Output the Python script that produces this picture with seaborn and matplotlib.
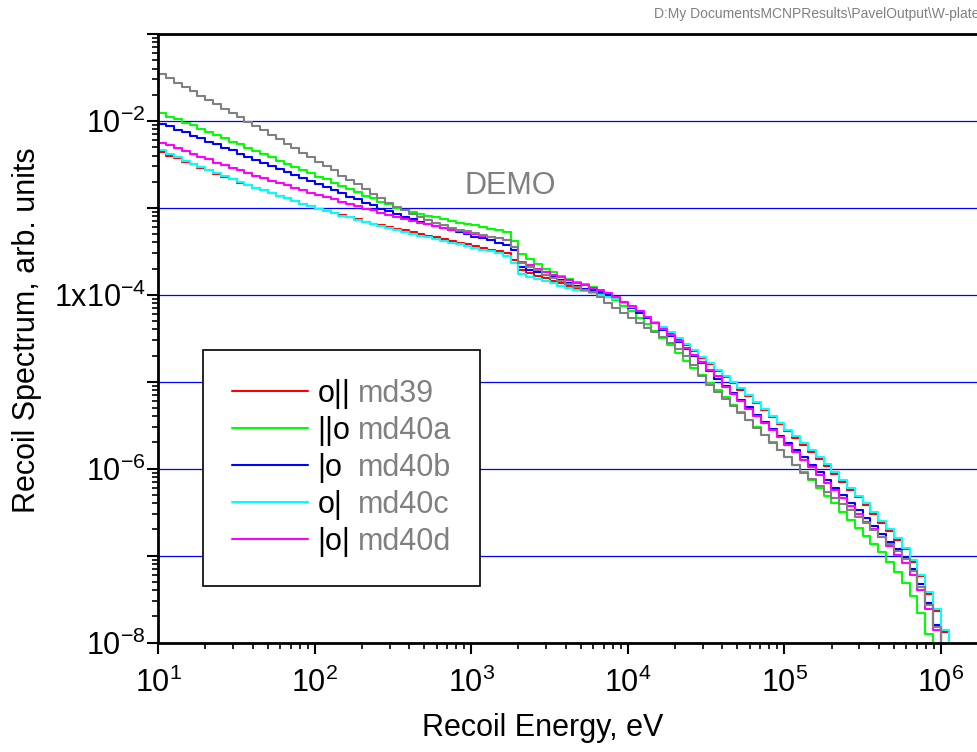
import numpy as np
import pandas as pd
import matplotlib
matplotlib.use("Agg")
import matplotlib.pyplot as plt
from matplotlib.lines import Line2D
from matplotlib import ticker
import seaborn as sns

# Recoil spectra, log10 of the bin value, 20 log bins per decade starting at 10 eV
energy_edges = np.logspace(1, 6.05, 102)

md39_log = [
    -2.36, -2.40, -2.43, -2.47, -2.50, -2.54, -2.57, -2.61, -2.64, -2.67,
    -2.71, -2.74, -2.77, -2.80, -2.83, -2.86, -2.89, -2.92, -2.95, -2.98,
    -3.01, -3.04, -3.06, -3.08, -3.11, -3.13, -3.16, -3.18, -3.20, -3.22,
    -3.24, -3.26, -3.28, -3.30, -3.32, -3.34, -3.36, -3.38, -3.40, -3.42,
    -3.44, -3.46, -3.48, -3.50, -3.52, -3.60, -3.72,
    -3.75, -3.78, -3.81, -3.84, -3.87, -3.90, -3.92, -3.95, -3.97, -3.99,
    -4.02, -4.05, -4.09, -4.14, -4.20, -4.26, -4.32, -4.38, -4.44, -4.51,
    -4.58, -4.65, -4.73, -4.80, -4.88, -4.95, -5.02, -5.09, -5.17, -5.25,
    -5.33, -5.41, -5.49, -5.57, -5.65, -5.73, -5.81, -5.89, -5.97, -6.06,
    -6.15, -6.24, -6.33, -6.42, -6.52, -6.62, -6.72, -6.82, -6.93, -7.07,
    -7.24, -7.44, -7.64, -7.88,
]

md40a_log = [
    -1.91, -1.95, -1.98, -2.02, -2.05, -2.09, -2.13, -2.16, -2.20, -2.24,
    -2.27, -2.31, -2.35, -2.38, -2.42, -2.46, -2.49, -2.53, -2.56, -2.60,
    -2.64, -2.67, -2.71, -2.75, -2.78, -2.82, -2.86, -2.89, -2.93, -2.96,
    -3.00, -3.02, -3.05, -3.07, -3.09, -3.11, -3.13, -3.15, -3.17, -3.19,
    -3.20, -3.22, -3.24, -3.26, -3.28, -3.38, -3.53,
    -3.59, -3.65, -3.70, -3.74, -3.78, -3.82, -3.85, -3.88, -3.91, -3.96,
    -4.00, -4.06, -4.13, -4.19, -4.27, -4.34, -4.42, -4.50, -4.58, -4.67,
    -4.76, -4.84, -4.92, -5.01, -5.09, -5.18, -5.27, -5.35, -5.44, -5.52,
    -5.61, -5.69, -5.78, -5.87, -5.96, -6.04, -6.13, -6.22, -6.31, -6.40,
    -6.50, -6.59, -6.68, -6.77, -6.87, -6.96, -7.07, -7.19, -7.32, -7.47,
    -7.66, -7.90,
]

md40b_log = [
    -2.03, -2.06, -2.10, -2.13, -2.17, -2.20, -2.24, -2.27, -2.31, -2.34,
    -2.38, -2.41, -2.45, -2.48, -2.52, -2.55, -2.59, -2.62, -2.66, -2.69,
    -2.73, -2.76, -2.80, -2.83, -2.87, -2.90, -2.94, -2.97, -3.01, -3.04,
    -3.07, -3.10, -3.13, -3.16, -3.18, -3.21, -3.23, -3.26, -3.28, -3.30,
    -3.33, -3.35, -3.37, -3.40, -3.43, -3.49, -3.68,
    -3.71, -3.74, -3.77, -3.80, -3.83, -3.87, -3.90, -3.93, -3.95, -3.97,
    -4.00, -4.04, -4.09, -4.15, -4.21, -4.27, -4.33, -4.40, -4.47, -4.54,
    -4.62, -4.70, -4.79, -4.88, -4.97, -5.05, -5.13, -5.21, -5.29, -5.38,
    -5.46, -5.54, -5.62, -5.71, -5.79, -5.87, -5.96, -6.04, -6.13, -6.22,
    -6.30, -6.39, -6.48, -6.57, -6.66, -6.75, -6.84, -6.93, -7.02, -7.15,
    -7.33, -7.55, -7.80,
]

md40c_log = [
    -2.34, -2.38, -2.42, -2.46, -2.49, -2.53, -2.56, -2.60, -2.63, -2.67,
    -2.70, -2.74, -2.77, -2.80, -2.83, -2.86, -2.89, -2.92, -2.95, -2.98,
    -3.01, -3.04, -3.06, -3.09, -3.11, -3.14, -3.16, -3.19, -3.21, -3.23,
    -3.25, -3.28, -3.30, -3.32, -3.34, -3.36, -3.38, -3.40, -3.42, -3.44,
    -3.46, -3.48, -3.50, -3.52, -3.55, -3.63, -3.76,
    -3.79, -3.82, -3.84, -3.87, -3.90, -3.92, -3.94, -3.96, -3.98, -4.00,
    -4.02, -4.05, -4.09, -4.14, -4.19, -4.25, -4.31, -4.37, -4.43, -4.50,
    -4.57, -4.64, -4.72, -4.79, -4.86, -4.93, -5.00, -5.07, -5.15, -5.23,
    -5.31, -5.39, -5.47, -5.55, -5.63, -5.71, -5.79, -5.87, -5.95, -6.04,
    -6.13, -6.22, -6.31, -6.40, -6.50, -6.60, -6.70, -6.80, -6.91, -7.05,
    -7.22, -7.42, -7.62, -7.86,
]

md40d_log = [
    -2.25, -2.28, -2.31, -2.35, -2.38, -2.41, -2.44, -2.48, -2.51, -2.54,
    -2.57, -2.60, -2.63, -2.66, -2.69, -2.71, -2.74, -2.77, -2.80, -2.83,
    -2.85, -2.88, -2.90, -2.93, -2.96, -2.98, -3.01, -3.03, -3.06, -3.08,
    -3.11, -3.13, -3.15, -3.17, -3.19, -3.21, -3.23, -3.25, -3.27, -3.29,
    -3.30, -3.32, -3.33, -3.35, -3.37, -3.45, -3.62,
    -3.66, -3.70, -3.74, -3.77, -3.80, -3.83, -3.86, -3.89, -3.92, -3.95,
    -3.98, -4.03, -4.08, -4.13, -4.19, -4.26, -4.32, -4.39, -4.46, -4.53,
    -4.61, -4.69, -4.77, -4.86, -4.94, -5.06, -5.14, -5.22, -5.31, -5.40,
    -5.48, -5.56, -5.64, -5.73, -5.81, -5.90, -5.98, -6.07, -6.16, -6.25,
    -6.34, -6.43, -6.52, -6.61, -6.70, -6.79, -6.89, -6.99, -7.09, -7.22,
    -7.40, -7.62, -7.86,
]

# grey curve, not in the legend
other_log = [
    -1.46, -1.51, -1.56, -1.61, -1.66, -1.71, -1.76, -1.81, -1.86, -1.91,
    -1.96, -2.01, -2.06, -2.11, -2.16, -2.21, -2.26, -2.31, -2.37, -2.42,
    -2.47, -2.52, -2.57, -2.63, -2.68, -2.73, -2.78, -2.84, -2.89, -2.94,
    -2.99, -3.03, -3.07, -3.10, -3.14, -3.17, -3.20, -3.23, -3.25, -3.27,
    -3.29, -3.31, -3.33, -3.35, -3.37, -3.45, -3.64,
    -3.68, -3.72, -3.77, -3.81, -3.84, -3.88, -3.91, -3.94, -3.97, -4.03,
    -4.09, -4.15, -4.21, -4.27, -4.32, -4.38, -4.43, -4.49, -4.55, -4.62,
    -4.70, -4.81, -4.94, -5.04, -5.12, -5.20, -5.28, -5.36, -5.44, -5.53,
    -5.61, -5.70, -5.78, -5.87, -5.96, -6.05, -6.12, -6.20, -6.27, -6.34,
    -6.41, -6.48, -6.56, -6.63, -6.71, -6.79, -6.87, -6.95, -7.04, -7.18,
    -7.36, -7.57, -7.82,
]

run_names = ["md39", "md40a", "md40b", "md40c", "md40d", "other"]
run_logs = [md39_log, md40a_log, md40b_log, md40c_log, md40d_log, other_log]
run_symbols = ["o||", "||o", "|o", "o|", "|o|"]
palette = {"md39": "#FF0000", "md40a": "#00FF00", "md40b": "#0000FF",
           "md40c": "#00FFFF", "md40d": "#FF00FF", "other": "#808080"}

# long table, each histogram closed down below the axis after its last bin
frames = []
for name, logs in zip(run_names, run_logs):
    vals = 10.0 ** np.array(logs)
    frames.append(pd.DataFrame({
        "energy": energy_edges[:len(vals) + 1],
        "spectrum": np.append(vals, 1e-10),
        "run": name,
    }))
df = pd.concat(frames, ignore_index=True)

sns.set_style("white")
plt.rcParams["font.family"] = ["Liberation Sans", "DejaVu Sans"]
plt.rcParams["mathtext.default"] = "regular"
for key in ["text.color", "axes.labelcolor", "xtick.color", "ytick.color", "axes.edgecolor"]:
    plt.rcParams[key] = "black"

fig = plt.figure(figsize=(9.77, 7.52), dpi=100)
ax = fig.add_axes([0.1621, 0.1456, 0.841, 0.8092])

sns.lineplot(data=df, x="energy", y="spectrum", hue="run", hue_order=run_names,
             palette=palette, drawstyle="steps-post", estimator=None, sort=False,
             legend=False, linewidth=1.5, ax=ax)

ax.set_xscale("log")
ax.set_yscale("log")
ax.set_xlim(10, 10 ** 6.25)
ax.set_ylim(1e-8, 1e-1)

# axis ticks
ax.xaxis.set_major_locator(ticker.LogLocator(base=10, numticks=20))
ax.xaxis.set_minor_locator(ticker.LogLocator(base=10, subs=np.arange(2, 10), numticks=100))
ax.xaxis.set_minor_formatter(ticker.NullFormatter())

ax.yaxis.set_major_locator(ticker.FixedLocator(10.0 ** np.arange(-8, 0)))
ylabels = {-8: r"10$^{-8}$", -6: r"10$^{-6}$", -4: r"1x10$^{-4}$", -2: r"10$^{-2}$"}
ax.yaxis.set_major_formatter(ticker.FuncFormatter(
    lambda v, pos: ylabels.get(int(round(np.log10(v))), "")))
ax.yaxis.set_minor_locator(ticker.LogLocator(base=10, subs=np.arange(2, 10), numticks=100))
ax.yaxis.set_minor_formatter(ticker.NullFormatter())

ax.tick_params(which="major", direction="out", length=8, width=1.5, labelsize=22)
ax.tick_params(which="minor", direction="out", length=4.5, width=1.2)
ax.tick_params(axis="x", which="major", pad=10)
ax.tick_params(axis="y", which="major", pad=1)
ax.tick_params(left=True, bottom=True, top=False, right=False, which="both")

for side in ["left", "bottom", "top"]:
    ax.spines[side].set_linewidth(2)
    ax.spines[side].set_color("black")
ax.spines["right"].set_visible(False)

ax.yaxis.grid(True, which="major", color="#0000FF", linewidth=0.9)
ax.xaxis.grid(False)
ax.set_axisbelow(True)

ax.set_xlabel("Recoil Energy, eV", fontsize=22)
ax.set_ylabel("Recoil Spectrum, arb. units", fontsize=22)
ax.xaxis.set_label_coords(0.468, -0.116)
ax.yaxis.set_label_coords(-0.142, 0.514)

ax.text(0.428, 0.75, "DEMO", transform=ax.transAxes, ha="center", va="center",
        fontsize=22, color="#808080")
fig.text(0.669, 0.981, "D:My DocumentsMCNPResults\\PavelOutput\\W-plates",
         ha="left", va="center", fontsize=10, color="#808080")

# legend: coloured line + black symbol, grey run name in a second column
handles = [Line2D([], [], color=palette[n], linewidth=1.5) for n in run_names[:5]]
handles += [Line2D([], [], linestyle="none") for _ in range(5)]
labels = run_symbols + run_names[:5]
leg = ax.legend(handles, labels, ncol=2, loc="upper left", bbox_to_anchor=(0.0543, 0.4807),
                borderaxespad=0, fontsize=22, handlelength=2.5, handletextpad=0.3,
                columnspacing=-2.56, labelspacing=0.23, borderpad=0.95,
                frameon=True, fancybox=False, framealpha=1, edgecolor="black")
leg.get_frame().set_linewidth(1.2)
for t in leg.get_texts()[5:]:
    t.set_color("#808080")

fig.savefig("out.png", dpi=100)
